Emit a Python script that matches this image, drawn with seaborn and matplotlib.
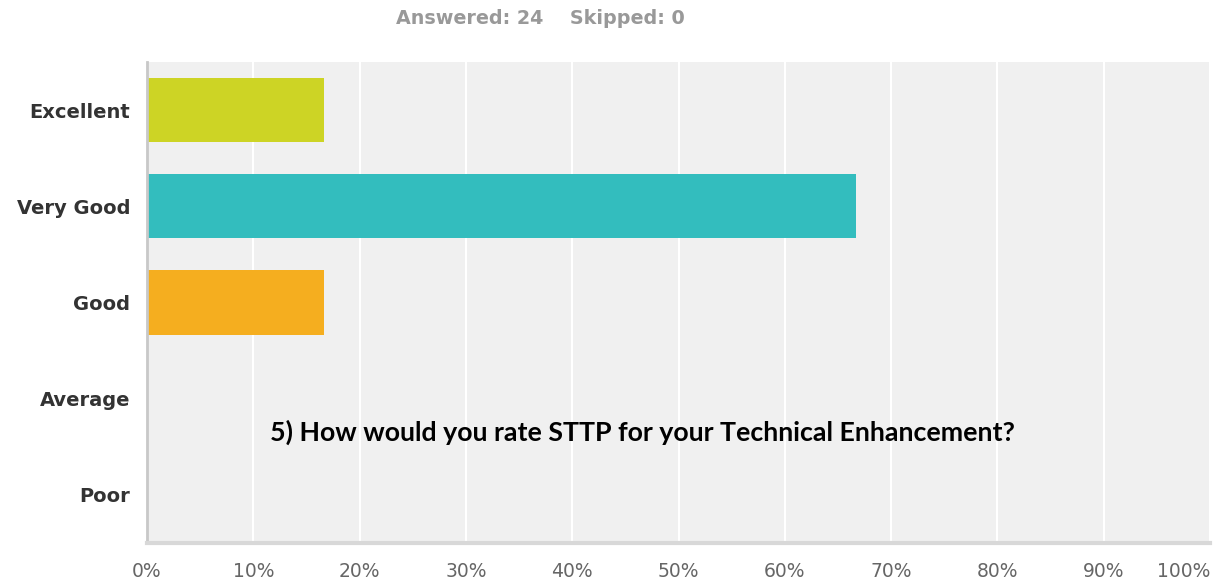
import pandas as pd
import matplotlib.pyplot as plt
import seaborn as sns

# Survey answers (percent of 24 respondents)
ratings = ["Excellent", "Very Good", "Good", "Average", "Poor"]
percent = [16.67, 66.67, 16.67, 0.0, 0.0]
bar_colors = ["#cdd425", "#33bdbe", "#f5ae1f", "#cccccc", "#cccccc"]
x_ticks = [0, 10, 20, 30, 40, 50, 60, 70, 80, 90, 100]
x_tick_labels = [f"{t}%" for t in x_ticks]

df = pd.DataFrame({"Rating": ratings, "Percent": percent})

sns.set_style("white")
plt.rcParams["font.family"] = ["DejaVu Sans"]

fig = plt.figure(figsize=(12.22, 5.85), dpi=100)
ax = fig.add_axes([147 / 1222, 1 - 543 / 585, (1210 - 147) / 1222, (543 - 62) / 585])
ax.set_facecolor("#f0f0f0")

sns.barplot(data=df, x="Percent", y="Rating", hue="Rating", palette=bar_colors,
            legend=False, width=0.667, saturation=1, linewidth=0, ax=ax)

ax.set_xlim(0, 100)
ax.set_xticks(x_ticks)
ax.set_xticklabels(x_tick_labels)
ax.tick_params(axis="x", length=0, pad=14, labelsize=13.5, labelcolor="#666666")
ax.tick_params(axis="y", length=0, pad=12, labelsize=14, labelcolor="#333333")
for lbl in ax.get_yticklabels():
    lbl.set_fontweight("bold")

ax.set_axisbelow(True)
ax.grid(axis="x", color="white", linewidth=1.5)
ax.grid(axis="y", visible=False)
ax.set_xlabel("")
ax.set_ylabel("")

for side in ["top", "right"]:
    ax.spines[side].set_visible(False)
ax.spines["left"].set_color("#c8c8c8")
ax.spines["left"].set_linewidth(2)
ax.spines["bottom"].set_color("#d8d8d8")
ax.spines["bottom"].set_linewidth(3)

fig.text(540 / 1222, 1 - 19 / 585, "Answered: 24    Skipped: 0", ha="center", va="center",
         color="#999999", fontsize=13.8, fontweight="bold")
fig.text(642 / 1222, 1 - 432 / 585, "5) How would you rate STTP for your Technical Enhancement?",
         ha="center", va="center", color="black", fontsize=19.3, fontweight="bold",
         family=["Lato", "DejaVu Sans"])

# last tick label sits flush with the right edge
fig.canvas.draw()
labels = ax.get_xticklabels()
labels[-1].set_horizontalalignment("right")

fig.savefig("out.png", dpi=100)
plt.close(fig)
